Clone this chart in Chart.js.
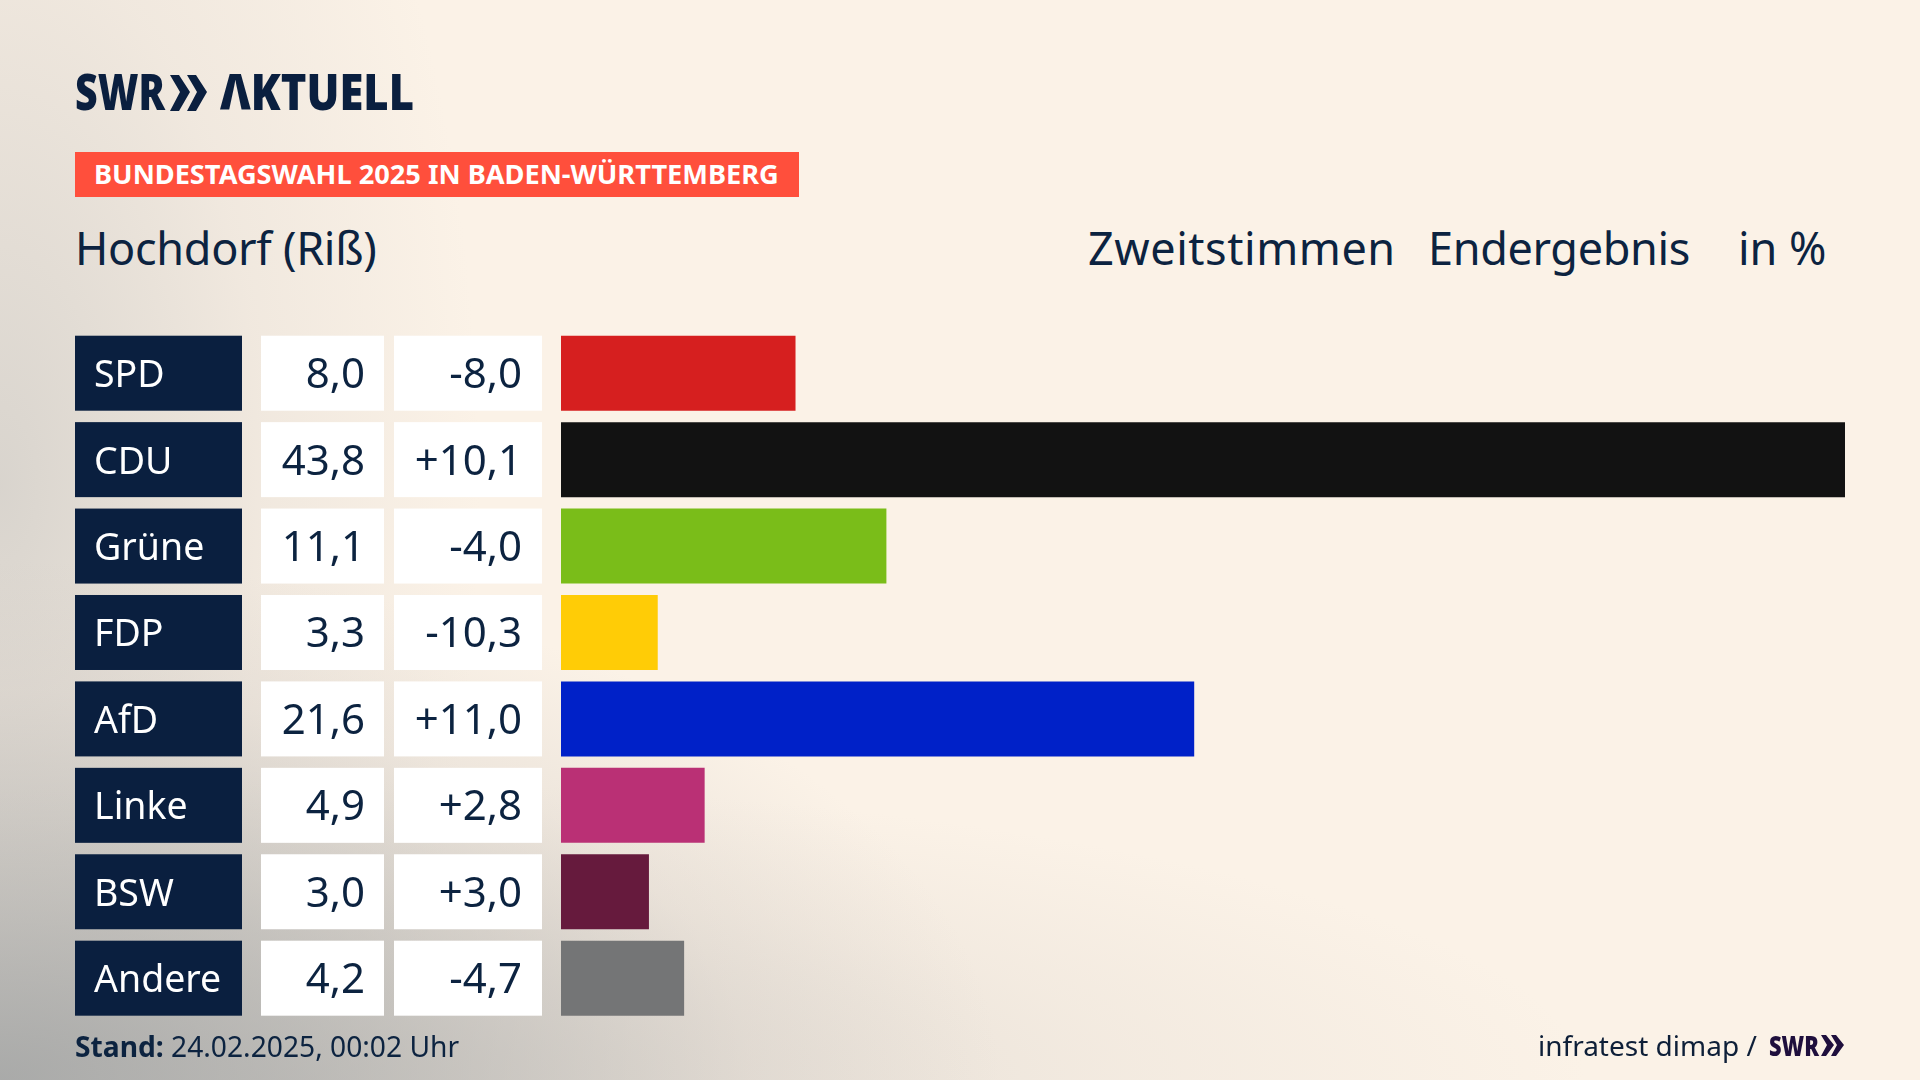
<!DOCTYPE html>
<html lang="de">
<head>
<meta charset="UTF-8">
<title>Bundestagswahl 2025 in Baden-Württemberg – Hochdorf (Riß)</title>
<script src="https://cdn.jsdelivr.net/npm/chart.js"></script>
<style>
  * { margin: 0; padding: 0; box-sizing: border-box; }
  html, body { width: 1920px; height: 1080px; overflow: hidden; }
  body {
    position: relative;
    font-family: "Noto Sans", sans-serif;
    color: #0c2340;
    background:
      radial-gradient(ellipse 1000px 520px at 0% 100%, rgba(160,162,162,0.85) 0%, rgba(175,175,173,0.6) 40%, rgba(200,195,190,0.25) 75%, rgba(250,241,230,0) 100%),
      radial-gradient(ellipse 1300px 300px at 15% 100%, rgba(190,187,183,0.5) 0%, rgba(215,208,200,0.22) 65%, rgba(250,241,230,0) 100%),
      radial-gradient(ellipse 480px 1000px at 0% 45%, rgba(205,202,197,0.75) 0%, rgba(225,218,210,0.4) 55%, rgba(250,241,230,0) 100%),
      #fbf2e7;
  }
  canvas { position: absolute; left: 0; top: 0; }
  .txt { position: absolute; white-space: nowrap; line-height: 1; }
  #banner { position: absolute; left: 75px; top: 152px; width: 724px; height: 45px; background: #ff4f3c; }
  #bannerText { left: 94px; top: 160px; font-size: 27.2px; font-weight: 700; color: #fff; }
  .head { top: 225px; font-size: 45px; }
  #foot { left: 75px; top: 1032px; font-size: 28.2px; }
  #foot b { font-weight: 700; }
  #source { left: 1538px; top: 1031px; font-size: 28px; color: #0e1f38; }
  svg { position: absolute; left: 0; top: 0; }
</style>
</head>
<body>
<div id="banner"></div>
<div class="txt" id="bannerText">BUNDESTAGSWAHL 2025 IN BADEN-WÜRTTEMBERG</div>
<div class="txt head" style="left:75px;letter-spacing:-0.3px">Hochdorf (Riß)</div>
<div class="txt head" style="left:1088px;letter-spacing:0.55px">Zweitstimmen</div>
<div class="txt head" style="left:1428px;letter-spacing:-0.33px">Endergebnis</div>
<div class="txt head" style="left:1738px">in %</div>
<canvas id="chart" width="1920" height="1080"></canvas>
<svg width="1920" height="1080" font-family="Noto Sans" font-weight="900">
  <text x="75" y="110" font-size="49" fill="#0a1f3f" textLength="90" lengthAdjust="spacingAndGlyphs">SWR</text>
  <polygon points="170,75 179,75 190,92 179,111 170,111 180,92" fill="#0a1f3f"/>
  <polygon points="187,75 196,75 207,92 196,111 187,111 197,92" fill="#0a1f3f"/>
  <text x="220" y="110" font-size="49" fill="#0a1f3f" textLength="194" lengthAdjust="spacingAndGlyphs">ΛKTUELL</text>
  <text x="1769" y="1056" font-size="29" fill="#1f0f3d" textLength="50" lengthAdjust="spacingAndGlyphs">SWR</text>
  <polygon points="1821,1035 1826,1035 1834,1045 1826,1056 1821,1056 1827,1045" fill="#1f0f3d"/>
  <polygon points="1831,1035 1836,1035 1844,1045 1836,1056 1831,1056 1837,1045" fill="#1f0f3d"/>
</svg>
<div class="txt" id="foot"><b>Stand:</b> 24.02.2025, 00:02 Uhr</div>
<div class="txt" id="source">infratest dimap /</div>

<script>
const parties = ["SPD", "CDU", "Grüne", "FDP", "AfD", "Linke", "BSW", "Andere"];
const shares = [8.0, 43.8, 11.1, 3.3, 21.6, 4.9, 3.0, 4.2];
const changes = [-8.0, 10.1, -4.0, -10.3, 11.0, 2.8, 3.0, -4.7];
const partyColors = ["#d61f1f", "#121212", "#7abd19", "#ffcc06", "#0021c8", "#ba3075", "#661a3d", "#747576"];

const fmt = (v) => v.toFixed(1).replace(".", ",");
const fmtChange = (v) => (v > 0 ? "+" : "") + fmt(v);

// Tabellenzellen links der Balken, Zeilen kommen von der y-Skala
const tableCells = {
  id: "tableCells",
  beforeDraw(chart) {
    const { ctx, scales: { y } } = chart;
    const rowH = 75;
    ctx.save();
    ctx.textBaseline = "alphabetic";
    parties.forEach((p, i) => {
      const cy = y.getPixelForValue(i);
      const top = cy - rowH / 2;
      ctx.fillStyle = "#0a1f3f";
      ctx.fillRect(75, top, 167, rowH);
      ctx.fillStyle = "#ffffff";
      ctx.fillRect(261, top, 123, rowH);
      ctx.fillRect(394, top, 148, rowH);
      ctx.font = '37.5px "Noto Sans"';
      ctx.textAlign = "left";
      ctx.fillText(y.getLabelForValue(i), 94, cy + 14);
      ctx.fillStyle = "#0c2340";
      ctx.font = '42px "Noto Sans"';
      ctx.textAlign = "right";
      ctx.fillText(fmt(shares[i]), 365, cy + 15);
      ctx.fillText(fmtChange(changes[i]), 522, cy + 15);
    });
    ctx.restore();
  }
};

new Chart(document.getElementById("chart"), {
  type: "bar",
  data: {
    labels: parties,
    datasets: [{
      data: shares,
      backgroundColor: partyColors,
      borderWidth: 0,
      barPercentage: 1,
      categoryPercentage: 0.868
    }]
  },
  options: {
    indexAxis: "y",
    responsive: false,
    devicePixelRatio: 1,
    animation: false,
    layout: { padding: { left: 94, right: 75, top: 330, bottom: 58.6 } },
    plugins: { legend: { display: false }, tooltip: { enabled: false } },
    scales: {
      x: { display: false, min: 0, max: 43.8 },
      y: {
        afterFit(scale) { scale.width = 467; },
        grid: { display: false },
        border: { display: false },
        ticks: { display: false }
      }
    }
  },
  plugins: [tableCells]
});
</script>
</body>
</html>
